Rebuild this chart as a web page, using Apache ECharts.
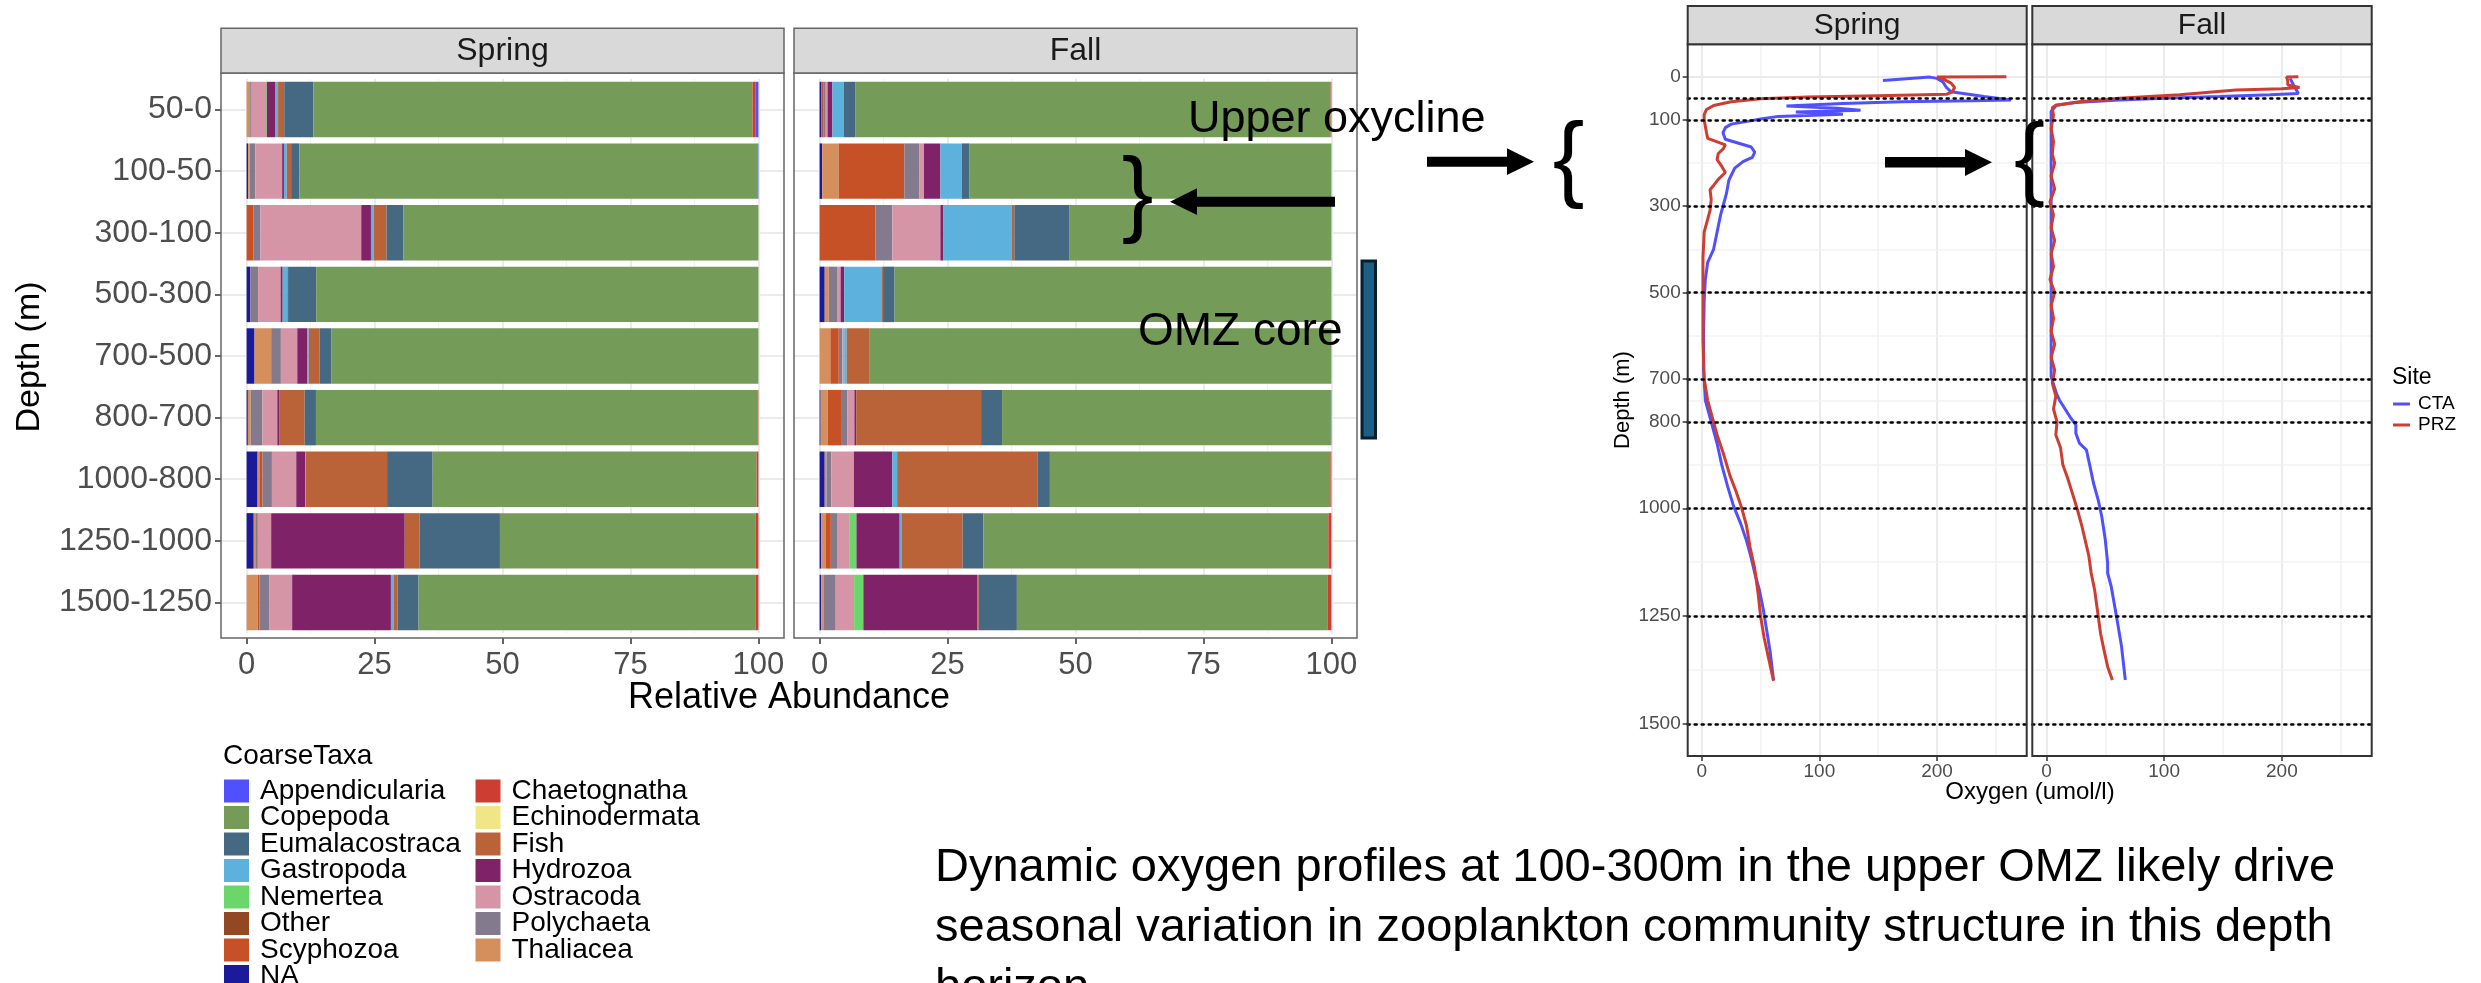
<!DOCTYPE html>
<html><head><meta charset="utf-8">
<script src="https://cdn.jsdelivr.net/npm/echarts@6/dist/echarts.min.js"></script>
<style>html,body{margin:0;padding:0;background:#fff}#c{width:2481px;height:983px}</style>
</head><body><div id="c"></div>
<script>
// ---------------- DATA ----------------
const depthBins = ['50-0','100-50','300-100','500-300','700-500','800-700','1000-800','1250-1000','1500-1250'];
const seasons = ['Spring','Fall'];
const legendCol1 = ['Appendicularia','Copepoda','Eumalacostraca','Gastropoda','Nemertea','Other','Scyphozoa','NA'];
const legendCol2 = ['Chaetognatha','Echinodermata','Fish','Hydrozoa','Ostracoda','Polychaeta','Thaliacea'];
// stacking order, from 0 outward
const stackOrder = ['NA','Thaliacea','Scyphozoa','Polychaeta','Other','Ostracoda','Nemertea','Hydrozoa','Gastropoda','Fish','Eumalacostraca','Echinodermata','Copepoda','Chaetognatha','Appendicularia'];

// Spring relative abundance (%) per depth bin
const spring_NA             = [0, 0.3, 0, 0.7, 1.55, 0.25, 2.15, 1.4, 0];
const spring_Thaliacea      = [0.7, 0.3, 0, 0, 3.25, 0.55, 0.35, 0.3, 2.15];
const spring_Scyphozoa      = [0, 0, 1.3, 0, 0, 0, 0.6, 0, 0.35];
const spring_Polychaeta     = [0.3, 1.1, 1.4, 1.55, 1.9, 2.3, 1.85, 0.5, 1.9];
const spring_Other          = [0, 0, 0, 0, 0, 0, 0, 0, 0];
const spring_Ostracoda      = [2.8, 5.25, 19.7, 4.4, 3.2, 2.9, 4.75, 2.6, 4.5];
const spring_Nemertea       = [0.15, 0, 0, 0, 0, 0, 0, 0, 0];
const spring_Hydrozoa       = [1.6, 0.35, 1.9, 0.4, 2.0, 0.35, 1.8, 26.1, 19.3];
const spring_Gastropoda     = [0.6, 0.55, 0.55, 0.9, 0.25, 0, 0.1, 0, 0.5];
const spring_Fish           = [1.2, 0.85, 2.5, 0.15, 2.1, 5.0, 15.85, 2.9, 0.8];
const spring_Eumalacostraca = [5.7, 1.6, 3.3, 5.5, 2.35, 2.2, 8.9, 15.7, 4.1];
const spring_Echinodermata  = [0, 0, 0, 0, 0, 0, 0, 0, 0];
const spring_Copepoda       = [85.8, 89.6, 69.35, 86.4, 83.4, 86.35, 63.3, 50.0, 65.9];
const spring_Chaetognatha   = [0.55, 0, 0, 0, 0, 0.1, 0.35, 0.5, 0.5];
const spring_Appendicularia = [0.6, 0.1, 0, 0, 0, 0, 0, 0, 0];

// Fall relative abundance (%) per depth bin
const fall_NA             = [0.35, 0.5, 0, 1.0, 0, 0.2, 1.0, 0.3, 0.3];
const fall_Thaliacea      = [0, 3.25, 0, 0.8, 2.1, 1.4, 0.35, 0.95, 0.55];
const fall_Scyphozoa      = [0.35, 12.8, 10.9, 0, 1.65, 2.75, 0, 0.95, 0];
const fall_Polychaeta     = [0.5, 2.9, 3.3, 1.6, 0.7, 1.1, 0.95, 1.2, 2.3];
const fall_Other          = [0, 0, 0, 0, 0, 0, 0, 0, 0];
const fall_Ostracoda      = [0.35, 0.95, 9.4, 0.7, 0.35, 1.35, 4.4, 2.5, 3.6];
const fall_Nemertea       = [0, 0, 0, 0, 0, 0, 0, 1.3, 1.8];
const fall_Hydrozoa       = [0.95, 3.2, 0.6, 0.7, 0, 0.35, 7.5, 8.45, 22.25];
const fall_Gastropoda     = [2.2, 4.2, 13.3, 7.4, 0.5, 0, 0.95, 0.45, 0];
const fall_Fish           = [0, 0, 0.55, 0.2, 4.5, 24.4, 27.4, 11.85, 0.3];
const fall_Eumalacostraca = [2.25, 1.5, 10.7, 2.25, 0, 4.1, 2.45, 4.05, 7.45];
const fall_Echinodermata  = [0, 0, 0, 0, 0, 0, 0, 0, 0];
const fall_Copepoda       = [92.9, 70.7, 51.25, 85.35, 90.2, 64.25, 54.8, 67.4, 60.75];
const fall_Chaetognatha   = [0.15, 0, 0, 0, 0, 0, 0.2, 0.6, 0.7];
const fall_Appendicularia = [0, 0, 0, 0, 0, 0.1, 0, 0, 0];

const abundanceTicks = [0, 25, 50, 75, 100];
const abundanceMinor = [12.5, 37.5, 62.5, 87.5];

// Oxygen profiles: [oxygen (umol/l), depth (m)]
const spring_CTA_o2 = [[154,9],[194,1],[200,4],[205,12],[208,25],[212,35],[240,46],[263,54],[230,56],[170,58],[120,62],[72,68],[115,73],[135,78],[80,82],[120,87],[65,92],[50,98],[40,103],[25,110],[20,118],[18,130],[20,145],[30,153],[42,163],[45,175],[43,187],[35,197],[28,212],[23,240],[21,270],[19,290],[16,320],[13,360],[10,400],[5,430],[3,470],[2,520],[1.5,600],[1.5,680],[3,750],[8,800],[13,850],[17,900],[22,950],[27,995],[33,1035],[38,1075],[42,1115],[45,1150],[49,1190],[52,1230],[55,1280],[58,1330],[61,1398]];
const spring_PRZ_o2 = [[259,0],[200,0.5],[205,5],[212,15],[215,25],[213,35],[208,41],[150,44],[90,47],[50,51],[25,58],[10,67],[4,76],[2,88],[2,100],[3,115],[4,130],[5,143],[12,150],[20,158],[18,168],[14,178],[13,192],[17,208],[20,222],[14,238],[10,252],[7,262],[8,285],[7,310],[5,330],[2,360],[1,420],[1,520],[1,610],[2,700],[5,750],[9,790],[13,830],[18,870],[24,925],[29,960],[34,1000],[38,1040],[41,1090],[45,1140],[48,1200],[50,1250],[53,1300],[57,1350],[61,1400]];
const fall_CTA_o2 = [[207,4],[210,20],[214,39],[190,42],[147,46],[100,50],[62,54],[25,60],[8.5,66],[4,80],[4,150],[4,300],[4,500],[4,695],[8.5,734],[11,749],[20,788],[25,807],[25,826],[28,849],[34,865],[37,903],[40,942],[44,981],[47,1019],[50,1073],[52,1127],[52,1150],[55,1181],[59.5,1250],[63.8,1320],[67,1398]];
const fall_PRZ_o2 = [[214,0],[204,1],[205,10],[205,19],[215,25],[200,28],[161,31],[113,42],[62,50],[28,58],[8,66],[5,72],[6,90],[4,120],[6,150],[5,180],[7,200],[4,230],[7,260],[3,290],[6,320],[4,350],[7,380],[4,410],[6,440],[3,470],[7,500],[4,530],[6,560],[4,590],[7,620],[4,650],[7,680],[5,710],[8,740],[6,770],[9,800],[8,830],[12,860],[14,900],[18,930],[22,965],[26,1000],[30,1040],[33,1075],[36,1110],[38,1150],[41,1190],[43,1230],[46,1290],[49,1330],[52,1367],[56,1398]];

const oxygenTicks = [0, 100, 200];
const oxygenMinor = [50, 150, 250];
const depthTicks = [0, 100, 300, 500, 700, 800, 1000, 1250, 1500];
const depthMinor = [50, 200, 400, 600, 750, 900, 1125, 1375];
const dottedDepths = [50, 100, 300, 500, 700, 800, 1000, 1250, 1500];

// ---------------- STYLE ----------------
const taxaColors = {
  Appendicularia:'#5050FF', Chaetognatha:'#CE3D32', Copepoda:'#749B58', Echinodermata:'#F0E685',
  Eumalacostraca:'#466983', Fish:'#BA6338', Gastropoda:'#5DB1DD', Hydrozoa:'#802268',
  Nemertea:'#6BD76B', Ostracoda:'#D595A7', Other:'#924822', Polychaeta:'#837B8D',
  Scyphozoa:'#C75127', Thaliacea:'#D58F5C', NA:'#1A1A9A'
};
const siteColors = { CTA:'#5050FF', PRZ:'#CE3D32' };
const FONT = "'Liberation Sans', Arial, Helvetica, sans-serif";

const seasonData = {
  Spring: {NA:spring_NA,Thaliacea:spring_Thaliacea,Scyphozoa:spring_Scyphozoa,Polychaeta:spring_Polychaeta,Other:spring_Other,Ostracoda:spring_Ostracoda,Nemertea:spring_Nemertea,Hydrozoa:spring_Hydrozoa,Gastropoda:spring_Gastropoda,Fish:spring_Fish,Eumalacostraca:spring_Eumalacostraca,Echinodermata:spring_Echinodermata,Copepoda:spring_Copepoda,Chaetognatha:spring_Chaetognatha,Appendicularia:spring_Appendicularia},
  Fall: {NA:fall_NA,Thaliacea:fall_Thaliacea,Scyphozoa:fall_Scyphozoa,Polychaeta:fall_Polychaeta,Other:fall_Other,Ostracoda:fall_Ostracoda,Nemertea:fall_Nemertea,Hydrozoa:fall_Hydrozoa,Gastropoda:fall_Gastropoda,Fish:fall_Fish,Eumalacostraca:fall_Eumalacostraca,Echinodermata:fall_Echinodermata,Copepoda:fall_Copepoda,Chaetognatha:fall_Chaetognatha,Appendicularia:fall_Appendicularia}
};
const oxygenData = {
  Spring: {CTA: spring_CTA_o2, PRZ: spring_PRZ_o2},
  Fall: {CTA: fall_CTA_o2, PRZ: fall_PRZ_o2}
};

// ---------------- LAYOUT ----------------
const barPanels = [{x:221, w:563}, {x:794, w:563}];
const barPanelTop = 73, barPanelBottom = 638;
const barGridTop = 78.7, barGridBottom = 633.3;
const oxyPanels = [{x:1687.7, w:339}, {x:2032.3, w:339.4}];
const oxyTop = 44.3, oxyBottom = 756;

const grids = [], xAxes = [], yAxes = [], series = [];

barPanels.forEach((p, i) => {
  grids.push({left:p.x, top:barGridTop, width:p.w, height:barGridBottom-barGridTop, containLabel:false});
  xAxes.push({type:'value', gridIndex:i, min:-5, max:105, position:'bottom',
    axisLine:{show:false, onZero:false}, splitLine:{show:false},
    axisTick:{show:true, length:6, customValues:abundanceTicks, lineStyle:{color:'#333', width:1.5}},
    axisLabel:{show:true, customValues:abundanceTicks, fontSize:31, color:'#4d4d4d', fontFamily:FONT, margin:12},
    offset:(barPanelBottom-barGridBottom)});
  yAxes.push({type:'category', gridIndex:i, data:depthBins, inverse:true, position:'left',
    axisLine:{show:false, onZero:false}, splitLine:{show:false},
    axisTick:{show:i===0, alignWithLabel:true, length:6, lineStyle:{color:'#333', width:1.5}},
    axisLabel:{show:i===0, fontSize:32, color:'#4d4d4d', fontFamily:FONT, margin:9}});
});
oxyPanels.forEach((p, i) => {
  const gi = i + 2;
  grids.push({left:p.x, top:oxyTop, width:p.w, height:oxyBottom-oxyTop, containLabel:false});
  xAxes.push({type:'value', gridIndex:gi, min:-12, max:276.3, position:'bottom',
    axisLine:{show:false, onZero:false}, splitLine:{show:false},
    axisTick:{show:true, length:5, customValues:oxygenTicks, lineStyle:{color:'#333', width:1.5}},
    axisLabel:{show:true, customValues:oxygenTicks, fontSize:19, color:'#4d4d4d', fontFamily:FONT, margin:6, formatter:v => String(v)}});
  yAxes.push({type:'value', gridIndex:gi, min:-75, max:1574, inverse:true, position:'left',
    axisLine:{show:false, onZero:false}, splitLine:{show:false},
    axisTick:{show:i===0, length:5, customValues:depthTicks, lineStyle:{color:'#333', width:1.5}},
    axisLabel:{show:i===0, customValues:depthTicks, fontSize:19, color:'#4d4d4d', fontFamily:FONT, margin:7, formatter:v => String(v)}});
});

function lineHelper(xi, yi, items, style, z) {
  return {type:'line', xAxisIndex:xi, yAxisIndex:yi, data:[], silent:true, z:z, animation:false,
    markLine:{silent:true, z:z, symbol:['none','none'], label:{show:false}, lineStyle:style, animation:false,
      emphasis:{disabled:true}, data:items}};
}

[0,1].forEach(i => {
  series.push(lineHelper(i, i, abundanceMinor.map(v => ({xAxis:v})), {color:'#f2f2f2', width:1.2, type:'solid'}, 0));
  series.push(lineHelper(i, i, abundanceTicks.map(v => ({xAxis:v})), {color:'#ebebeb', width:2, type:'solid'}, 0));
  series.push(lineHelper(i, i, depthBins.map((d, k) => ({yAxis:k})), {color:'#ebebeb', width:2, type:'solid'}, 0));
});
seasons.forEach((s, i) => {
  stackOrder.forEach(t => {
    series.push({type:'bar', name:t, stack:'stack'+s, xAxisIndex:i, yAxisIndex:i,
      data:seasonData[s][t], barCategoryGap:'10%', itemStyle:{color:taxaColors[t]},
      emphasis:{disabled:true}, z:2, animation:false});
  });
});
seasons.forEach((s, i) => {
  const gi = i + 2;
  series.push(lineHelper(gi, gi, oxygenMinor.map(v => ({xAxis:v})), {color:'#f2f2f2', width:1.5, type:'solid'}, 0));
  series.push(lineHelper(gi, gi, oxygenTicks.map(v => ({xAxis:v})), {color:'#ebebeb', width:2, type:'solid'}, 0));
  series.push(lineHelper(gi, gi, depthMinor.map(v => ({yAxis:v})), {color:'#f2f2f2', width:1.5, type:'solid'}, 0));
  series.push(lineHelper(gi, gi, depthTicks.map(v => ({yAxis:v})), {color:'#ebebeb', width:2, type:'solid'}, 0));
  ['CTA','PRZ'].forEach(site => {
    series.push({type:'line', name:site, xAxisIndex:gi, yAxisIndex:gi, data:oxygenData[s][site],
      showSymbol:false, symbol:'none', lineStyle:{color:siteColors[site], width:3},
      itemStyle:{color:siteColors[site]}, emphasis:{disabled:true}, z:3, animation:false, clip:true});
  });
  series.push(lineHelper(gi, gi, dottedDepths.map(v => ({yAxis:v})), {color:'#000', width:2.5, type:[2,5], cap:'round'}, 5));
});

// ---------------- GRAPHICS ----------------
const g = [];
barPanels.forEach((p, i) => {
  g.push({type:'rect', shape:{x:p.x, y:barPanelTop, width:p.w, height:barPanelBottom-barPanelTop}, style:{fill:'none', stroke:'#666', lineWidth:1.5}, z:50});
  g.push({type:'rect', shape:{x:p.x, y:28.3, width:p.w, height:barPanelTop-28.3}, style:{fill:'#d9d9d9', stroke:'#666', lineWidth:1.5}, z:50});
  g.push({type:'text', x:p.x+p.w/2, y:51, style:{text:seasons[i], fontSize:32, fill:'#1a1a1a', fontFamily:FONT, textAlign:'center', textVerticalAlign:'middle'}, z:51});
});
oxyPanels.forEach((p, i) => {
  g.push({type:'rect', shape:{x:p.x, y:oxyTop, width:p.w, height:oxyBottom-oxyTop}, style:{fill:'none', stroke:'#333', lineWidth:2}, z:50});
  g.push({type:'rect', shape:{x:p.x, y:6, width:p.w, height:oxyTop-6}, style:{fill:'#d9d9d9', stroke:'#333', lineWidth:2}, z:50});
  g.push({type:'text', x:p.x+p.w/2, y:25.5, style:{text:seasons[i], fontSize:30, fill:'#1a1a1a', fontFamily:FONT, textAlign:'center', textVerticalAlign:'middle'}, z:51});
});
g.push({type:'text', x:30, y:357, rotation:Math.PI/2, style:{text:'Depth (m)', fontSize:34, fill:'#000', fontFamily:FONT, textAlign:'center', textVerticalAlign:'middle'}, z:51});
g.push({type:'text', x:789, y:698, style:{text:'Relative Abundance', fontSize:36, fill:'#000', fontFamily:FONT, textAlign:'center', textVerticalAlign:'middle'}, z:51});
g.push({type:'text', x:1623, y:400, rotation:Math.PI/2, style:{text:'Depth (m)', fontSize:22, fill:'#000', fontFamily:FONT, textAlign:'center', textVerticalAlign:'middle'}, z:51});
g.push({type:'text', x:2030, y:792, style:{text:'Oxygen (umol/l)', fontSize:24, fill:'#000', fontFamily:FONT, textAlign:'center', textVerticalAlign:'middle'}, z:51});
g.push({type:'text', x:223, y:756, style:{text:'CoarseTaxa', fontSize:28, fill:'#000', fontFamily:FONT, textAlign:'left', textVerticalAlign:'middle'}, z:51});
g.push({type:'text', x:2392, y:378, style:{text:'Site', fontSize:23, fill:'#000', fontFamily:FONT, textAlign:'left', textVerticalAlign:'middle'}, z:51});
g.push({type:'text', x:1188, y:120, style:{text:'Upper oxycline', fontSize:45, fill:'#000', fontFamily:FONT, textAlign:'left', textVerticalAlign:'middle'}, z:60});
g.push({type:'text', x:1138, y:332, style:{text:'OMZ core', fontSize:46, fill:'#000', fontFamily:FONT, textAlign:'left', textVerticalAlign:'middle'}, z:60});
g.push({type:'rect', shape:{x:1362, y:261, width:13.5, height:177}, style:{fill:'#1b5f87', stroke:'#0a1e2c', lineWidth:3}, z:60});
g.push({type:'polygon', shape:{points:[[1335,196.7],[1197,196.7],[1197,188.3],[1170,201.7],[1197,215],[1197,206.7],[1335,206.7]]}, style:{fill:'#000'}, z:60});
g.push({type:'polygon', shape:{points:[[1427,156.7],[1507,156.7],[1507,148.3],[1534,161.7],[1507,175],[1507,166.7],[1427,166.7]]}, style:{fill:'#000'}, z:60});
g.push({type:'polygon', shape:{points:[[1885,157],[1965,157],[1965,149],[1992,162.3],[1965,176],[1965,167.5],[1885,167.5]]}, style:{fill:'#000'}, z:60});
g.push({type:'text', x:1137.5, y:198, style:{text:'}', fontSize:95, fill:'#000', fontFamily:FONT, textAlign:'center', textVerticalAlign:'middle'}, z:60});
g.push({type:'text', x:1568.5, y:163, style:{text:'{', fontSize:95, fill:'#000', fontFamily:FONT, textAlign:'center', textVerticalAlign:'middle'}, z:60});
g.push({type:'text', x:2029.5, y:162, style:{text:'{', fontSize:93, fill:'#000', fontFamily:FONT, textAlign:'center', textVerticalAlign:'middle'}, z:60});
g.push({type:'text', x:935, y:868.5, style:{text:'Dynamic oxygen profiles at 100-300m in the upper OMZ likely drive', fontSize:47, fill:'#000', fontFamily:FONT, textAlign:'left', textVerticalAlign:'middle'}, z:60});
g.push({type:'text', x:935, y:928.5, style:{text:'seasonal variation in zooplankton community structure in this depth', fontSize:47, fill:'#000', fontFamily:FONT, textAlign:'left', textVerticalAlign:'middle'}, z:60});
g.push({type:'text', x:935, y:988.5, style:{text:'horizon', fontSize:47, fill:'#000', fontFamily:FONT, textAlign:'left', textVerticalAlign:'middle'}, z:60});

const legendBase = {orient:'vertical', icon:'rect', itemWidth:25, itemHeight:23, itemGap:-1.5, selectedMode:false,
  height:400, width:260,
  textStyle:{fontSize:28, color:'#000', fontFamily:FONT, padding:[0,0,0,6]}, padding:0};

const option = {
  animation:false,
  backgroundColor:'#fff',
  grid:grids, xAxis:xAxes, yAxis:yAxes, series:series,
  legend:[
    Object.assign({}, legendBase, {left:224, top:777, data:legendCol1}),
    Object.assign({}, legendBase, {left:475.5, top:777, data:legendCol2}),
    {orient:'vertical', icon:'rect', itemWidth:17, itemHeight:3, itemGap:1, selectedMode:false, padding:0,
      left:2393, top:394, data:['CTA','PRZ'], textStyle:{fontSize:19, color:'#000', fontFamily:FONT, padding:[0,0,0,3], lineHeight:20}}
  ],
  graphic:{elements:g}
};
const chart = echarts.init(document.getElementById('c'), null, {renderer:'canvas', width:2481, height:983});
chart.setOption(option);
</script>
</body></html>
